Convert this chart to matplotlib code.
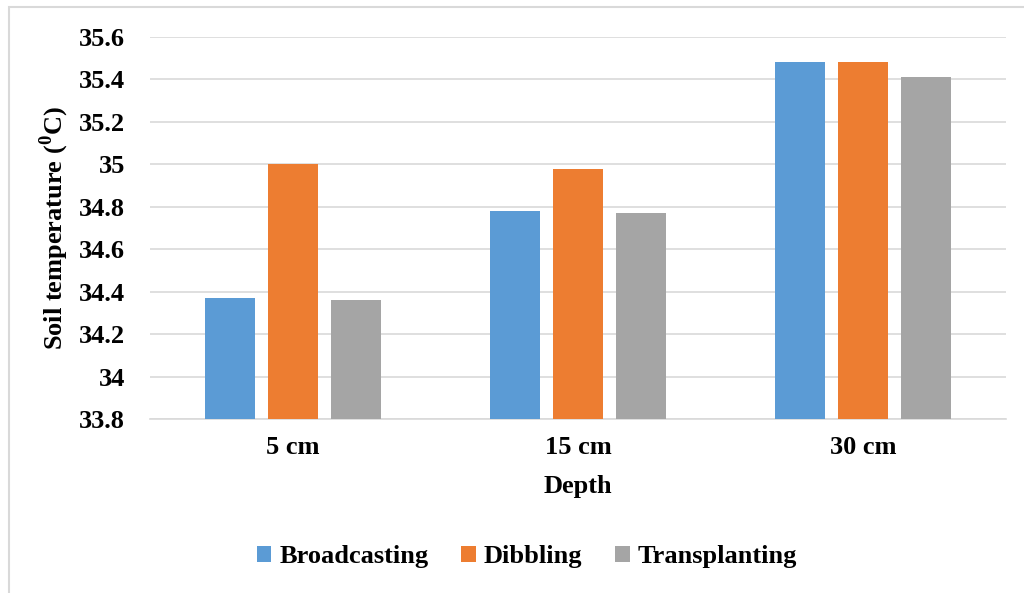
import numpy as np
import matplotlib
matplotlib.use("Agg")
import matplotlib.pyplot as plt
from matplotlib.patches import Rectangle

plt.rcParams['font.family'] = ['Liberation Serif', 'DejaVu Serif']
plt.rcParams['font.weight'] = 'bold'
plt.rcParams['mathtext.fontset'] = 'custom'
plt.rcParams['mathtext.rm'] = 'Liberation Serif:bold'
plt.rcParams['mathtext.bf'] = 'Liberation Serif:bold'

# data
depths = ['5 cm', '15 cm', '30 cm']
broadcasting = [34.37, 34.78, 35.48]
dibbling = [35.00, 34.98, 35.48]
transplanting = [34.36, 34.77, 35.41]
y_ticks = [33.8, 34, 34.2, 34.4, 34.6, 34.8, 35, 35.2, 35.4, 35.6]
y_tick_labels = ['33.8', '34', '34.2', '34.4', '34.6', '34.8', '35', '35.2', '35.4', '35.6']

fig = plt.figure(figsize=(10.24, 5.93), dpi=100)
ax = fig.add_axes([150 / 1024, 1 - 419 / 593, 856 / 1024, 382 / 593])

x = np.arange(len(depths))
w = 0.175
off = 0.221
ax.bar(x - off, np.array(broadcasting) - 33.8, w, bottom=33.8, color='#5B9BD5', label='Broadcasting', zorder=3)
ax.bar(x, np.array(dibbling) - 33.8, w, bottom=33.8, color='#ED7D31', label='Dibbling', zorder=3)
ax.bar(x + off, np.array(transplanting) - 33.8, w, bottom=33.8, color='#A5A5A5', label='Transplanting', zorder=3)

ax.set_xlim(-0.5, 2.5)
ax.set_ylim(33.8, 35.6)
ax.set_yticks(y_ticks)
ax.set_yticklabels(y_tick_labels)
ax.set_xticks(x)
ax.set_xticklabels(depths)
ax.tick_params(axis='both', length=0, labelsize=19)
ax.tick_params(axis='y', pad=18)
ax.tick_params(axis='x', pad=12)
ax.grid(axis='y', color='#D9D9D9', linewidth=1.2, zorder=0)
for s in ['top', 'right', 'left']:
    ax.spines[s].set_visible(False)
ax.spines['bottom'].set_color('#D9D9D9')
ax.spines['bottom'].set_linewidth(1.2)

ax.set_xlabel('Depth', fontsize=19, fontweight='bold', labelpad=12)
ax.set_ylabel(r'Soil temperature ($^{0}$C)', fontsize=19, fontweight='bold')
ax.yaxis.set_label_coords(-0.092, 0.5)

fig.legend(loc='center', bbox_to_anchor=(527 / 1024, 1 - 557 / 593), ncol=3, frameon=False,
           fontsize=19, handlelength=0.55, handleheight=0.55, handletextpad=0.3, columnspacing=1.25)

fig.patches.append(Rectangle((9 / 1024, -0.01), 1.0, 1 - 7 / 593 + 0.01, transform=fig.transFigure,
                             fill=False, edgecolor='#D9D9D9', linewidth=1.5))

fig.savefig('out.png', dpi=100)
